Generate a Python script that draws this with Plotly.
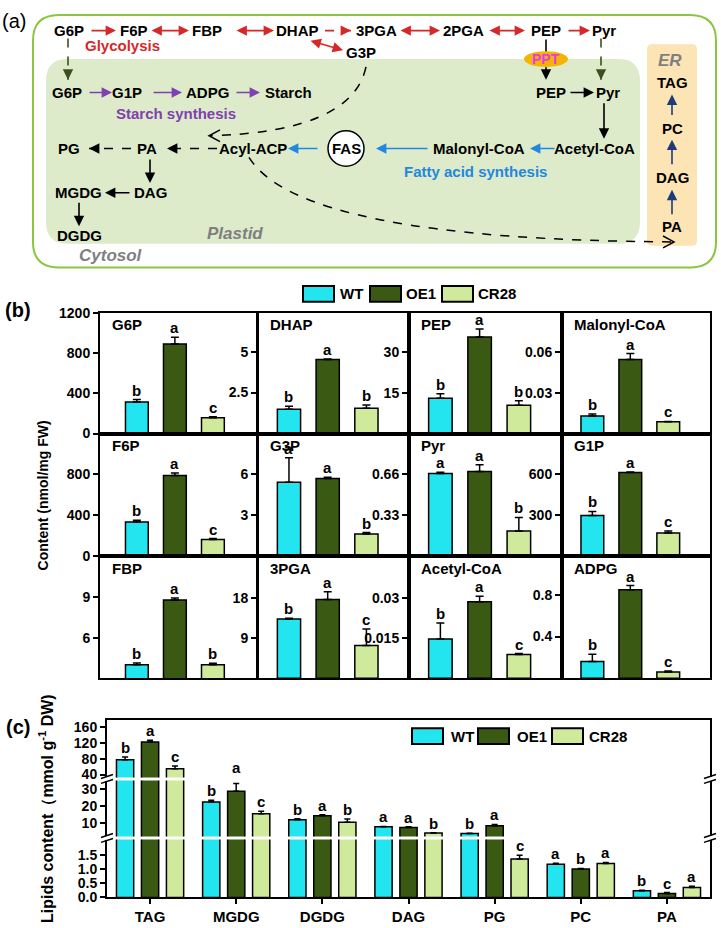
import math
import plotly.graph_objects as go

W, H = 721, 928
def px(x): return x / W
def py(y): return 1 - y / H

GROUPS = ["WT", "OE1", "CR28"]
COLORS = ["#22E5F0", "#3A5A14", "#D0EA9C"]

# ---------------- panel (b) data ----------------
metabolites = ["G6P", "DHAP", "PEP", "Malonyl-CoA",
               "F6P", "G3P", "Pyr", "G1P",
               "FBP", "3PGA", "Acetyl-CoA", "ADPG"]
wt_b = [312, 1.49, 12.9, 0.0129, 337, 5.43, 0.668, 300, 4.0, 13.2, 0.0146, 0.16]
wt_b_err = [25, 0.18, 1.7, 0.0014, 15, 1.8, 0.01, 29, 0.12, 0.2, 0.006, 0.07]
oe1_b = [888, 4.52, 35.4, 0.0543, 790, 5.7, 0.683, 614, 8.78, 17.6, 0.0285, 0.85]
oe1_b_err = [68, 0.03, 2.9, 0.0043, 25, 0.1, 0.055, 5, 0.15, 1.7, 0.002, 0.04]
cr28_b = [156, 1.55, 10.4, 0.0086, 164, 1.64, 0.204, 171, 4.0, 7.3, 0.0088, 0.06]
cr28_b_err = [10, 0.2, 1.6, 0.0003, 10, 0.1, 0.11, 14, 0.1, 3.7, 0.0004, 0.01]
wt_b_sig = ["b", "b", "b", "b", "b", "a", "a", "b", "b", "b", "b", "b"]
oe1_b_sig = ["a", "a", "a", "a", "a", "a", "a", "a", "a", "a", "a", "a"]
cr28_b_sig = ["c", "b", "b", "c", "c", "b", "b", "c", "b", "c", "c", "c"]
b_ranges = [[0, 1200], [0, 7.38], [0, 44.3], [0, 0.0886],
            [0, 1200], [0, 9], [0, 0.99], [0, 900],
            [3, 12], [0, 27.2], [0, 0.0454], [0, 1.17]]
b_ticks = [[0, 400, 800, 1200], [2.5, 5], [15, 30], [0.03, 0.06],
           [0, 400, 800], [3, 6], [0.33, 0.66], [300, 600],
           [6, 9], [9, 18], [0.015, 0.03], [0.4, 0.8]]
b_ticktext = [["0", "400", "800", "1200"], ["2.5", "5"], ["15", "30"], ["0.03", "0.06"],
              ["0", "400", "800"], ["3", "6"], ["0.33", "0.66"], ["300", "600"],
              ["6", "9"], ["9", "18"], ["0.015", "0.03"], ["0.4", "0.8"]]

# ---------------- panel (c) data ----------------
lipids = ["TAG", "MGDG", "DGDG", "DAG", "PG", "PC", "PA"]
wt_c = [77.5, 22.4, 11.8, 7.6, 3.5, 1.18, 0.24]
wt_c_err = [7, 1.0, 0.6, 0.2, 0.2, 0.03, 0.01]
oe1_c = [122.5, 28.8, 14.1, 7.1, 8.2, 1.01, 0.14]
oe1_c_err = [5, 4.7, 0.7, 0.5, 0.8, 0.02, 0.03]
cr28_c = [55, 15.3, 10.2, 3.8, 1.36, 1.2, 0.35]
cr28_c_err = [7, 1.6, 2.0, 0.2, 0.14, 0.04, 0.05]
wt_c_sig = ["b", "b", "b", "a", "b", "a", "b"]
oe1_c_sig = ["a", "a", "a", "a", "a", "b", "c"]
cr28_c_sig = ["c", "c", "b", "b", "c", "a", "a"]
c_seg_ranges = [[32.5, 180], [1.76, 35.3], [0, 2.06]]
c_seg_ticks = [[40, 80, 120, 160], [10, 20, 30], [0, 0.5, 1.0, 1.5]]
c_seg_ticktext = [["40", "80", "120", "160"], ["10", "20", "30"], ["0.0", "0.5", "1.0", "1.5"]]

FONT = "Arial"
shapes, annotations, traces = [], [], []
layout_axes = {}

def axname(n):
    return ("xaxis" if n == 1 else f"xaxis{n}"), ("yaxis" if n == 1 else f"yaxis{n}")
def axref(n):
    return ("x" if n == 1 else f"x{n}"), ("y" if n == 1 else f"y{n}")

def text(x, y, s, size=15, color="black", bold=True, italic=False, xanchor="center"):
    t = s
    if bold:
        t = f"<b>{t}</b>"
    if italic:
        t = f"<i>{t}</i>"
    annotations.append(dict(xref="paper", yref="paper", x=px(x), y=py(y), text=t,
                            showarrow=False, xanchor=xanchor, yanchor="middle",
                            font=dict(family=FONT, size=size, color=color)))

def arrow(x0, y0, x1, y1, color, dash=None, both=False, w=1.6):
    if dash:
        shapes.append(dict(type="line", xref="paper", yref="paper", x0=px(x0), y0=py(y0),
                           x1=px(x1), y1=py(y1), line=dict(color=color, width=w, dash=dash)))
        L = math.hypot(x1 - x0, y1 - y0)
        ux, uy = (x0 - x1) / L, (y0 - y1) / L
        annotations.append(dict(xref="paper", yref="paper", x=px(x1), y=py(y1), ax=ux * 6, ay=uy * 6,
                                showarrow=True, text="", arrowhead=2, arrowsize=1.3,
                                arrowwidth=w, arrowcolor=color))
    else:
        d = dict(xref="paper", yref="paper", x=px(x1), y=py(y1), ax=x0 - x1, ay=y0 - y1,
                 showarrow=True, text="", arrowhead=2, arrowsize=1.3, arrowwidth=w,
                 arrowcolor=color)
        if both:
            d.update(arrowside="end+start", startarrowhead=2, startarrowsize=1.3)
        annotations.append(d)

def rrect(x0, y0, x1, y1, r):
    return (f"M {px(x0 + r)},{py(y0)} L {px(x1 - r)},{py(y0)} Q {px(x1)},{py(y0)} {px(x1)},{py(y0 + r)} "
            f"L {px(x1)},{py(y1 - r)} Q {px(x1)},{py(y1)} {px(x1 - r)},{py(y1)} "
            f"L {px(x0 + r)},{py(y1)} Q {px(x0)},{py(y1)} {px(x0)},{py(y1 - r)} "
            f"L {px(x0)},{py(y0 + r)} Q {px(x0)},{py(y0)} {px(x0 + r)},{py(y0)} Z")

# ---------------- panel (a): pathway diagram ----------------
shapes.append(dict(type="path", xref="paper", yref="paper", path=rrect(33, 7, 716, 264, 26),
                   line=dict(color="#8CC63F", width=2), fillcolor="rgba(0,0,0,0)", layer="below"))
shapes.append(dict(type="path", xref="paper", yref="paper", path=rrect(46, 52, 640, 240, 22),
                   line=dict(width=0), fillcolor="#DDEBCB", layer="below"))
shapes.append(dict(type="path", xref="paper", yref="paper", path=rrect(647, 37, 697, 242, 5),
                   line=dict(width=0), fillcolor="#FCE4B4", layer="below"))

RED, PUR, BLU, DGR, NAV = "#D62828", "#8040B0", "#2288DD", "#3C4F1F", "#1F3A7A"
text(14, 13, "(a)", size=20, bold=False)
for x, s in [(69, "G6P"), (134, "F6P"), (207, "FBP"), (297, "DHAP"), (376, "3PGA"),
             (463, "2PGA"), (546, "PEP"), (604, "Pyr")]:
    text(x, 23, s)
arrow(90, 23, 116, 23, RED)
arrow(150, 23, 189, 23, RED, both=True)
arrow(235, 23, 274, 23, RED, both=True)
arrow(325, 23, 351, 23, RED, dash="dash")
arrow(399, 23, 440, 23, RED, both=True)
arrow(488, 23, 525, 23, RED, both=True)
arrow(567, 23, 590, 23, RED)
text(122, 38, "Glycolysis", color=RED)
arrow(309, 33, 343, 43, RED, both=True)
text(361, 45, "G3P")
arrow(68, 31, 68, 73, DGR, dash="dash")
arrow(601, 31, 601, 73, DGR, dash="dash")
# PEP transport through the PPT transporter (line passes behind the ellipse)
shapes.append(dict(type="line", xref="paper", yref="paper", x0=px(546), x1=px(546),
                   y0=py(32), y1=py(46), line=dict(color="black", width=1.6)))
shapes.append(dict(type="circle", xref="paper", yref="paper", x0=px(524), x1=px(568),
                   y0=py(44), y1=py(60), fillcolor="#F5B400", line=dict(width=0)))
arrow(546, 59, 546, 73, "black")
text(546, 52, "PPT", size=14, color="#E63CE6")
text(670, 53, "ER", size=17, color="#7F7F7F", italic=True)
# starch synthesis row
for x, s in [(67, "G6P"), (127, "G1P"), (207, "ADPG"), (288, "Starch")]:
    text(x, 86, s)
arrow(88, 86, 112, 86, PUR)
arrow(152, 86, 182, 86, PUR)
arrow(235, 86, 260, 86, PUR)
text(176, 107, "Starch synthesis", color=PUR)
text(551, 86, "PEP")
text(608, 86, "Pyr")
arrow(569, 86, 594, 86, "black")
arrow(604, 96, 604, 133, "black")
# ER lipids
for y, s in [(76, "TAG"), (123, "PC"), (172, "DAG"), (222, "PA")]:
    text(672, y, s)
arrow(672, 110, 672, 88, NAV)
arrow(672, 160, 672, 134, NAV)
arrow(672, 211, 672, 185, NAV)
# fatty acid row
for x, s in [(69, "PG"), (147, "PA"), (253, "Acyl-ACP"), (479, "Malonyl-CoA"), (594, "Acetyl-CoA")]:
    text(x, 143, s)
shapes.append(dict(type="circle", xref="paper", yref="paper", x0=px(328), x1=px(364),
                   y0=py(125), y1=py(161), fillcolor="white", line=dict(color="black", width=1.5)))
text(346, 143, "FAS")
arrow(131, 143, 89, 143, "black", dash="dash")
arrow(217, 143, 167, 143, "black", dash="dash")
arrow(319, 143, 288, 143, BLU)
arrow(429, 143, 376, 143, BLU)
arrow(556, 143, 530, 143, BLU)
text(475, 166, "Fatty acid synthesis", color=BLU)
arrow(150, 153, 150, 178, "black")
text(150, 188, "DAG")
text(78, 188, "MGDG")
arrow(131, 188, 105, 188, "black")
arrow(79, 197, 79, 222, "black")
text(79, 231, "DGDG")
text(235, 229, "Plastid", size=17, color="#7F7F7F", italic=True)
text(111, 252, "Cytosol", size=17, color="#7F7F7F", italic=True)
# dashed curves with open arrowheads
def P(x, y):
    return f"{px(x)},{py(y)}"
shapes.append(dict(type="path", xref="paper", yref="paper",
                   path=f"M {P(366, 60)} Q {P(352, 126)} {P(210, 130)}",
                   line=dict(color="black", width=1.5, dash="dash")))
shapes.append(dict(type="path", xref="paper", yref="paper",
                   path=f"M {P(220, 124)} L {P(209, 130)} L {P(220, 136)}",
                   line=dict(color="black", width=1.5)))
shapes.append(dict(type="path", xref="paper", yref="paper",
                   path=f"M {P(249, 152)} Q {P(300, 236)} {P(673, 238)}",
                   line=dict(color="black", width=1.5, dash="dash")))
shapes.append(dict(type="path", xref="paper", yref="paper",
                   path=f"M {P(663, 232)} L {P(674, 238)} L {P(663, 244)}",
                   line=dict(color="black", width=1.5)))

# ---------------- legend helper ----------------
def legend(y, items):
    for (bx, tx), name, col in zip(items, GROUPS, COLORS):
        shapes.append(dict(type="rect", xref="paper", yref="paper", x0=px(bx), x1=px(bx + 31),
                           y0=py(y - 8), y1=py(y + 8), fillcolor=col, line=dict(color="black", width=2)))
        text(tx, y, name, size=15, xanchor="left")

legend(291, [(303, 338), (370, 404), (442, 476)])

# ---------------- panel (b): 3x4 small bar charts ----------------
col_px = [(100, 257), (258, 409), (409, 562), (562, 710)]
row_px = [(310, 433), (433, 558), (558, 682)]
x_ranges = [[0.03, 4.16], [0.2, 4.1], [0.2, 4.1], [0.2, 4.1]]
n = 0
for k, name in enumerate(metabolites):
    n += 1
    r, c = divmod(k, 4)
    xa, ya = axname(n)
    xr, yr = axref(n)
    vals = [wt_b[k], oe1_b[k], cr28_b[k]]
    errs = [wt_b_err[k], oe1_b_err[k], cr28_b_err[k]]
    sigs = [wt_b_sig[k], oe1_b_sig[k], cr28_b_sig[k]]
    traces.append(go.Bar(x=[1, 2, 3], y=vals, width=0.6, xaxis=xr, yaxis=yr,
                         marker=dict(color=COLORS, line=dict(color="black", width=1.5)),
                         error_y=dict(type="data", array=errs, arrayminus=[0, 0, 0], symmetric=False,
                                      color="black", thickness=1.5, width=4),
                         showlegend=False, hoverinfo="skip"))
    layout_axes[xa] = dict(domain=[px(col_px[c][0]), px(col_px[c][1])], range=x_ranges[c],
                           anchor=yr, showline=True, mirror=True, linecolor="black", linewidth=2,
                           showticklabels=False, ticks="", showgrid=False, zeroline=False, fixedrange=True)
    layout_axes[ya] = dict(domain=[py(row_px[r][1]), py(row_px[r][0])], range=b_ranges[k],
                           anchor=xr, showline=True, mirror=True, linecolor="black", linewidth=2,
                           tickvals=b_ticks[k], ticktext=b_ticktext[k], ticks="outside", ticklen=5,
                           tickwidth=1.5, tickcolor="black",
                           tickfont=dict(family=FONT, size=14, color="black", weight="bold"),
                           showgrid=False, zeroline=False, fixedrange=True)
    text(col_px[c][0] + 10, row_px[r][0] + 12, name, size=15, xanchor="left")
    for i in range(3):
        annotations.append(dict(xref=xr, yref=yr, x=i + 1, y=vals[i] + errs[i], text=f"<b>{sigs[i]}</b>",
                                showarrow=False, yanchor="bottom", yshift=-1,
                                font=dict(family=FONT, size=15, color="black")))

text(18, 307, "(b)", size=20)
annotations.append(dict(xref="paper", yref="paper", x=px(43), y=py(496), text="<b>Content (nmol/mg FW)</b>",
                        textangle=-90, showarrow=False, xanchor="center", yanchor="middle",
                        font=dict(family=FONT, size=14, color="black")))

# ---------------- panel (c): broken-axis grouped bars ----------------
seg_px = [(724, 783), (786, 843), (846, 905)]
c_vals = [wt_c, oe1_c, cr28_c]
c_errs = [wt_c_err, oe1_c_err, cr28_c_err]
c_sigs = [wt_c_sig, oe1_c_sig, cr28_c_sig]
bargap, bargroupgap = 0.13, 0.31
slot = (1 - bargap) / 3
seg_axes = []
for s in range(3):
    n += 1
    xa, ya = axname(n)
    xr, yr = axref(n)
    seg_axes.append((xr, yr))
    lo = c_seg_ranges[s][0]
    for g in range(3):
        yv = [v if v > lo else None for v in c_vals[g]]
        traces.append(go.Bar(x=lipids, y=yv, name=GROUPS[g], xaxis=xr, yaxis=yr,
                             marker=dict(color=COLORS[g], line=dict(color="black", width=1.5)),
                             error_y=dict(type="data", array=c_errs[g], arrayminus=[0] * len(lipids),
                                          symmetric=False, color="black", thickness=1.5, width=3),
                             showlegend=False, hoverinfo="skip"))
    xdict = dict(domain=[px(107), px(710)], range=[-0.5, 6.5], type="category", anchor=yr,
                 showgrid=False, zeroline=False, fixedrange=True, linecolor="black", linewidth=2)
    if s == 0:
        xdict.update(side="top", showline=True, showticklabels=False, ticks="")
    elif s == 1:
        xdict.update(showline=False, showticklabels=False, ticks="")
    else:
        xdict.update(showline=True, ticks="outside", ticklen=5, tickwidth=1.5, tickcolor="black",
                     tickfont=dict(family=FONT, size=15, color="black", weight="bold"))
    layout_axes[xa] = xdict
    layout_axes[ya] = dict(domain=[py(seg_px[s][1]), py(seg_px[s][0])], range=c_seg_ranges[s], anchor=xr,
                           showline=True, mirror=True, linecolor="black", linewidth=2,
                           tickvals=c_seg_ticks[s], ticktext=c_seg_ticktext[s], ticks="outside",
                           ticklen=5, tickwidth=1.5, tickcolor="black",
                           tickfont=dict(family=FONT, size=14, color="black", weight="bold"),
                           showgrid=False, zeroline=False, fixedrange=True)

for g in range(3):
    for i in range(len(lipids)):
        top = c_vals[g][i] + c_errs[g][i]
        s = 0 if top >= c_seg_ranges[0][0] else (1 if top >= c_seg_ranges[1][0] else 2)
        xr, yr = seg_axes[s]
        annotations.append(dict(xref=xr, yref=yr, x=i + (g - 1) * slot, y=top, text=f"<b>{c_sigs[g][i]}</b>",
                                showarrow=False, yanchor="bottom", yshift=-1,
                                font=dict(family=FONT, size=15, color="black")))

# break marks on both vertical axes
for bx in (107, 710):
    for by in (784.5, 844.5):
        shapes.append(dict(type="rect", xref="paper", yref="paper", x0=px(bx - 2), x1=px(bx + 2),
                           y0=py(by - 2), y1=py(by + 2), fillcolor="white", line=dict(width=0)))
        for off in (-2.5, 2.5):
            shapes.append(dict(type="line", xref="paper", yref="paper", x0=px(bx - 6), y0=py(by + off + 2),
                               x1=px(bx + 6), y1=py(by + off - 2), line=dict(color="black", width=1.5)))

legend(741, [(412, 449), (478, 515), (552, 587)])
text(18, 732, "(c)", size=20)
annotations.append(dict(xref="paper", yref="paper", x=px(47), y=py(815),
                        text="<b>Lipids content（mmol g<sup>-1</sup> DW)</b>",
                        textangle=-90, showarrow=False, xanchor="center", yanchor="middle",
                        font=dict(family=FONT, size=16, color="black")))

fig = go.Figure(data=traces)
fig.update_layout(width=W, height=H, margin=dict(l=0, r=0, t=0, b=0, pad=0),
                  paper_bgcolor="white", plot_bgcolor="white", barmode="group",
                  bargap=bargap, bargroupgap=bargroupgap, showlegend=False,
                  font=dict(family=FONT, color="black"), shapes=shapes, annotations=annotations,
                  **layout_axes)
fig.write_html("out.html", config={"displayModeBar": False},
               post_script="document.body.style.margin='0';document.body.style.padding='0';"
                           "document.documentElement.style.overflow='hidden';")
